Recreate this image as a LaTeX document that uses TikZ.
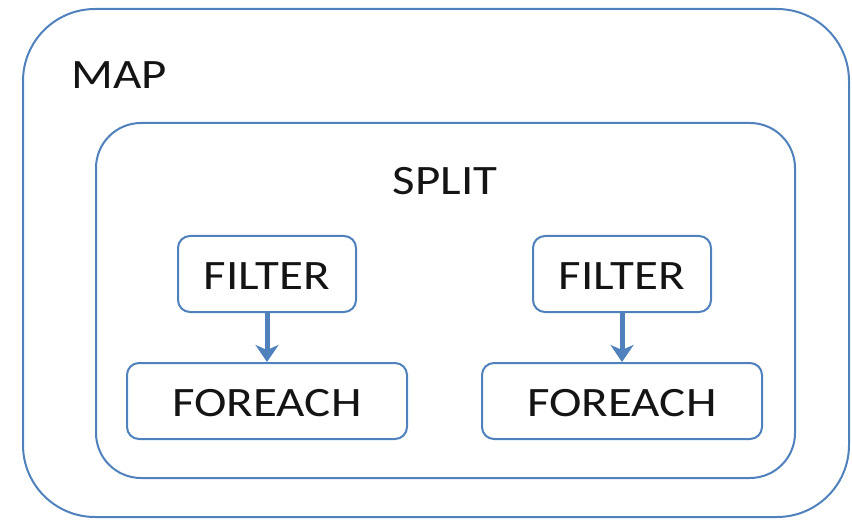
\documentclass[tikz,border=0pt]{standalone}
\usepackage{fontspec}
\setmainfont{Carlito}
\usetikzlibrary{arrows.meta}
\definecolor{frame}{HTML}{4F81BD}
\definecolor{ink}{HTML}{141414}
\newcommand{\widetext}[1]{\scalebox{1.17}[1]{#1}}
\begin{document}
\begin{tikzpicture}[x=1bp,y=-1bp,
  container/.style={draw=frame,line width=2bp,fill=white},
  stepbox/.style={draw=frame,line width=2bp,fill=white,rounded corners=12bp},
  lbl/.style={text=ink,font=\fontsize{42}{50}\selectfont,inner sep=0pt},
  flow/.style={draw=frame,line width=5bp,-{Stealth[length=17bp,width=23bp,inset=5bp]}}]
\useasboundingbox (0,0) rectangle (852,521);
% outer MAP container
\draw[container,rounded corners=72bp] (23,9) rectangle (849,517);
\node[lbl] (map) at (119,75) {\widetext{MAP}};
% SPLIT container
\draw[container,rounded corners=45bp] (96,123) rectangle (795,478);
\node[lbl] (split) at (445,181) {\widetext{SPLIT}};
% left branch
\node[stepbox,minimum width=178bp,minimum height=76bp] (f1) at (267,274) {};
\node[lbl] at ([yshift=-2bp]f1.center) {\widetext{FILTER}};
\node[stepbox,minimum width=280bp,minimum height=76bp] (e1) at (267,401) {};
\node[lbl] at ([yshift=-2bp]e1.center) {\widetext{FOREACH}};
% right branch
\node[stepbox,minimum width=178bp,minimum height=76bp] (f2) at (622,274) {};
\node[lbl] at ([yshift=-2bp]f2.center) {\widetext{FILTER}};
\node[stepbox,minimum width=280bp,minimum height=76bp] (e2) at (622,401) {};
\node[lbl] at ([yshift=-2bp]e2.center) {\widetext{FOREACH}};
% arrows
\draw[flow] (f1.south) -- (e1.north);
\draw[flow] (f2.south) -- (e2.north);
\end{tikzpicture}
\end{document}
